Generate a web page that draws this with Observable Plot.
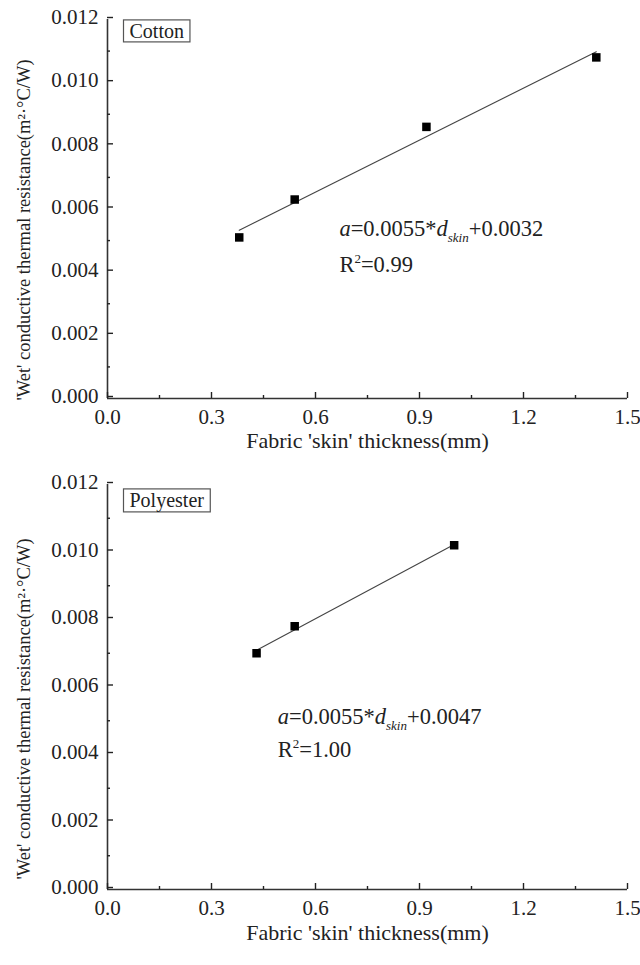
<!DOCTYPE html>
<html>
<head>
<meta charset="utf-8">
<script src="https://cdn.jsdelivr.net/npm/d3@7"></script>
<script src="https://cdn.jsdelivr.net/npm/@observablehq/plot@0.6"></script>
<style>
  body { margin: 0; background: #fff; }
  #chart svg { display: block; }
</style>
</head>
<body>
<div id="chart"></div>
<script>
// ---- data ----
const panelNames = ["Cotton", "Polyester"];
const cottonThickness = [0.38, 0.54, 0.92, 1.41];
const cottonResistance = [0.0051, 0.0063, 0.0086, 0.0108];
const polyesterThickness = [0.43, 0.54, 1.00];
const polyesterResistance = [0.0070, 0.0078, 0.0102];
const fitEquations = ["a=0.0055*d_skin+0.0032", "a=0.0055*d_skin+0.0047"];
const fitR2 = ["R^2=0.99", "R^2=1.00"];
const xMajorTicks = [0, 0.3, 0.6, 0.9, 1.2, 1.5];
const xMinorTicks = [0.15, 0.45, 0.75, 1.05, 1.35];
const yMajorTicks = [0, 0.002, 0.004, 0.006, 0.008, 0.010, 0.012];
const yMinorTicks = [0.001, 0.003, 0.005, 0.007, 0.009, 0.011];
const xLabel = "Fabric 'skin' thickness(mm)";
const yLabel = "'Wet' conductive thermal resistance(m²·°C/W)";

const FONT = "'Liberation Serif', 'Times New Roman', serif";
const AXIS = "#333";

function panel(cfg) {
  const data = cfg.x.map((x, i) => ({x, y: cfg.y[i]}));
  return Plot.plot({
    width: 640,
    height: cfg.height,
    marginTop: cfg.marginTop,
    marginBottom: cfg.marginBottom,
    marginLeft: 107,
    marginRight: 13,
    style: {fontFamily: FONT, color: "#222", background: "#fff", overflow: "visible"},
    x: {domain: [0, 1.5]},
    y: {domain: [0, 0.012]},
    marks: [
      Plot.ruleY([0], {stroke: AXIS, strokeWidth: 1.6}),
      Plot.ruleX([0], {stroke: AXIS, strokeWidth: 1.6}),
      Plot.axisX({ticks: xMinorTicks, tickSize: -3, tickFormat: () => "", label: null, strokeWidth: 1.4}),
      Plot.axisX({ticks: xMajorTicks, tickSize: -6, tickPadding: 17, tickFormat: d3.format(".1f"), label: null, fontSize: 21, strokeWidth: 1.4}),
      Plot.axisY({ticks: yMinorTicks, tickSize: -3, tickFormat: () => "", label: null, strokeWidth: 1.4}),
      Plot.axisY({ticks: yMajorTicks, tickSize: -6, tickPadding: 15, tickFormat: d3.format(".3f"), label: null, fontSize: 21, dy: -2, strokeWidth: 1.4}),
      Plot.text([xLabel], {text: d => d, frameAnchor: "bottom", dy: cfg.titleDy, fontSize: 22, fill: "#222"}),
      Plot.text([yLabel], {text: d => d, frameAnchor: "left", textAnchor: "middle", rotate: -90, dx: -83, dy: cfg.yLabelDy, fontSize: 18.5, fill: "#222"}),
      Plot.linearRegressionY(data, {x: "x", y: "y", ci: 0, stroke: "#444", strokeWidth: 1.1}),
      Plot.dot(data, {x: "x", y: "y", symbol: "square", r: 4.8, fill: "#000"}),
      Plot.text([cfg.name], {text: d => d, frameAnchor: "top-left", lineAnchor: "middle", textAnchor: "start", dx: 22, dy: cfg.nameDy, fontSize: 20, fill: "#222"}),
      Plot.text([cfg.eq], {text: d => d, x: cfg.eqX, y: cfg.eqY1, textAnchor: "start", fontSize: 22.5, fill: "#222"}),
      Plot.text([cfg.r2], {text: d => d, x: cfg.eqX, y: cfg.eqY2, textAnchor: "start", fontSize: 22.5, fill: "#222"})
    ]
  });
}

function decorate(svg) {
  d3.select(svg).selectAll("text").each(function () {
    const s = this.textContent;
    const t = d3.select(this);
    // equation: italic a and d, subscript "skin"
    const m = s.match(/^(a)(=[^d]*)(d)_(skin)(.*)$/);
    if (m) {
      t.text(null);
      t.append("tspan").attr("font-style", "italic").text(m[1]);
      t.append("tspan").text(m[2]);
      t.append("tspan").attr("font-style", "italic").text(m[3]);
      t.append("tspan").attr("font-style", "italic").attr("font-size", 13).attr("dy", 6).text(m[4]);
      t.append("tspan").attr("dy", -6).text(m[5]);
      return;
    }
    // R^2 with a real superscript
    const r = s.match(/^(R)\^(2)(.*)$/);
    if (r) {
      t.text(null);
      t.append("tspan").text(r[1]);
      t.append("tspan").attr("font-size", 13).attr("dy", -9).text(r[2]);
      t.append("tspan").attr("dy", 9).text(r[3]);
      return;
    }
    // boxed panel label
    if (panelNames.includes(s)) {
      const b = this.getBBox();
      d3.select(this.parentNode).insert("rect", () => this)
        .attr("x", b.x - 6).attr("y", b.y)
        .attr("width", b.width + 12).attr("height", b.height)
        .attr("fill", "#fff").attr("stroke", "#555").attr("stroke-width", 1.2)
        .attr("transform", this.getAttribute("transform"));
    }
  });
}

const chartEl = document.getElementById("chart");
const cottonSvg = panel({
  name: panelNames[0], x: cottonThickness, y: cottonResistance,
  eq: fitEquations[0], r2: fitR2[0], eqX: 0.669, eqY1: 0.00536, eqY2: 0.00422,
  nameDy: 12, titleDy: 49, yLabelDy: 21,
  height: 470, marginTop: 19, marginBottom: 72
});
chartEl.appendChild(cottonSvg);
decorate(cottonSvg);
const polySvg = panel({
  name: panelNames[1], x: polyesterThickness, y: polyesterResistance,
  eq: fitEquations[1], r2: fitR2[1], eqX: 0.491, eqY1: 0.00512, eqY2: 0.00414,
  nameDy: 16, titleDy: 50, yLabelDy: 22,
  height: 495, marginTop: 14, marginBottom: 76
});
chartEl.appendChild(polySvg);
decorate(polySvg);
</script>
</body>
</html>
